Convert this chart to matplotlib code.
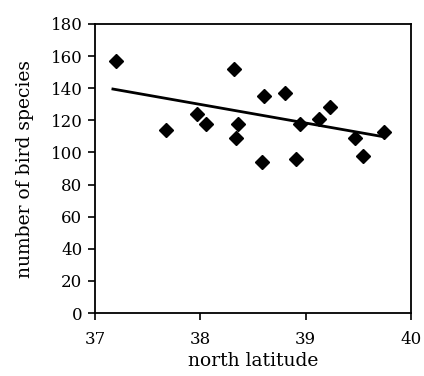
import matplotlib
matplotlib.use("Agg")
import matplotlib.pyplot as plt

latitude = [37.20, 37.67, 37.97, 38.05, 38.32, 38.34, 38.36, 38.59, 38.60,
            38.80, 38.91, 38.95, 39.13, 39.23, 39.47, 39.54, 39.74]
species = [157, 114, 124, 118, 152, 109, 118, 94, 135,
           137, 96, 118, 121, 128, 109, 98, 113]
trend_x = [37.17, 39.72]
trend_y = [139.5, 110.0]
xticks = [37, 38, 39, 40]
yticks = list(range(0, 181, 20))

plt.rcParams['font.family'] = ['DejaVu Serif']
fig = plt.figure(figsize=(4.24, 3.76), dpi=100)
ax = fig.add_axes([95/424, 1 - 313/376, (411-95)/424, (313-24)/376])
ax.plot(latitude, species, linestyle='none', marker='D', ms=7, color='black')
ax.plot(trend_x, trend_y, color='black', lw=2)
ax.set_xlim(37, 40)
ax.set_ylim(0, 180)
ax.set_xticks(xticks)
ax.set_yticks(yticks)
ax.tick_params(direction='out', length=5, width=1.2, labelsize=12, colors='black')
ax.tick_params(axis='x', pad=8)
ax.tick_params(axis='y', pad=4)
for s in ax.spines.values():
    s.set_linewidth(1.3)
ax.set_xlabel('north latitude', fontsize=13.5, labelpad=3)
ax.set_ylabel('number of bird species', fontsize=13.5, labelpad=12)
fig.savefig('out.png', dpi=100)
